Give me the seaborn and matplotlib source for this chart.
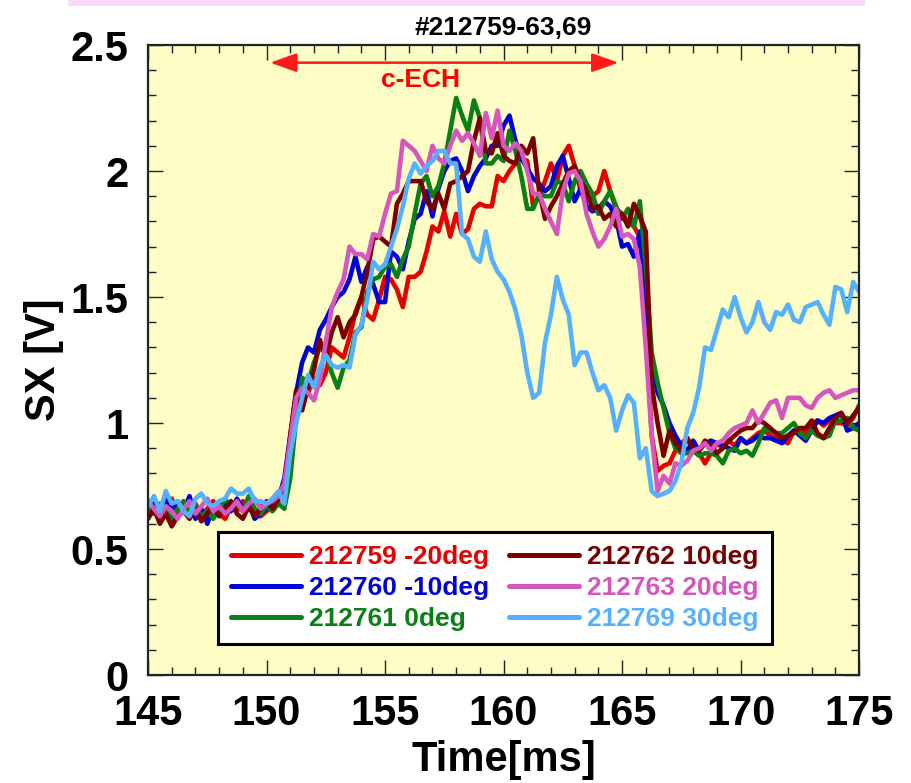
import numpy as np
import pandas as pd
import matplotlib
matplotlib.use("Agg")
import matplotlib.pyplot as plt
from matplotlib.ticker import MultipleLocator, FuncFormatter
from matplotlib.patches import Rectangle
import seaborn as sns

# time base of the soft X-ray signal, 0.25 ms sampling
TIME = np.arange(145.0, 175.001, 0.25)

sx_212759 = [
    0.65, 0.68, 0.63, 0.66, 0.70, 0.64, 0.67, 0.65, 0.68, 0.63, 0.66, 0.69, 0.64, 0.62, 0.67, 0.65,
    0.69, 0.66, 0.64, 0.63, 0.65, 0.67, 0.69, 0.74, 0.92, 1.10, 1.17, 1.12, 1.18, 1.15, 1.20, 1.30,
    1.28, 1.26, 1.34, 1.44, 1.50, 1.43, 1.41, 1.49, 1.58, 1.57, 1.53, 1.46, 1.58, 1.58, 1.60, 1.68,
    1.78, 1.76, 1.84, 1.74, 1.83, 1.75, 1.77, 1.85, 1.87, 1.86, 1.86, 1.98, 1.96, 2.00, 2.03, 2.05,
    2.04, 1.86, 1.90, 1.96, 2.03, 1.96, 2.06, 2.10, 2.02, 1.92, 1.88, 1.90, 1.92, 2.00, 1.92, 1.85,
    1.83, 1.80, 1.78, 1.74, 1.40, 0.95, 0.81, 0.83, 0.84, 0.89, 0.92, 0.94, 0.89, 0.88, 0.84, 0.88,
    0.92, 0.90, 0.93, 0.91, 0.94, 0.92, 0.94, 0.96, 0.97, 0.95, 0.94, 0.93, 0.92, 0.97, 0.98, 0.96,
    1.00, 1.01, 0.99, 1.01, 1.00, 1.00, 0.99, 1.02, 1.07,
]
sx_212760 = [
    0.66, 0.68, 0.64, 0.70, 0.66, 0.69, 0.65, 0.71, 0.62, 0.66, 0.60, 0.67, 0.64, 0.68, 0.65, 0.70,
    0.66, 0.68, 0.62, 0.64, 0.66, 0.67, 0.70, 0.78, 0.95, 1.12, 1.24, 1.30, 1.28, 1.37, 1.41, 1.46,
    1.50, 1.52, 1.57, 1.66, 1.56, 1.62, 1.55, 1.48, 1.48, 1.68, 1.66, 1.61, 1.72, 1.81, 1.83, 1.92,
    1.82, 1.93, 2.00, 2.04, 2.05, 2.00, 1.92, 1.98, 2.02, 2.05, 2.10, 2.10, 2.18, 2.22, 2.12, 2.05,
    2.01, 1.97, 1.95, 1.92, 1.94, 2.02, 2.06, 1.97, 1.88, 1.93, 1.86, 1.84, 1.85, 1.88, 1.86, 1.81,
    1.70, 1.71, 1.66, 1.76, 1.45, 1.24, 1.12, 1.07, 1.00, 0.95, 0.91, 0.89, 0.93, 0.89, 0.92, 0.93,
    0.92, 0.91, 0.90, 0.89, 0.94, 0.92, 0.93, 0.95, 0.94, 0.94, 0.93, 0.92, 0.95, 0.97, 0.95, 0.93,
    0.97, 1.01, 1.00, 1.02, 1.03, 1.04, 0.97, 0.98, 1.00,
]
sx_212761 = [
    0.67, 0.64, 0.68, 0.65, 0.62, 0.66, 0.69, 0.64, 0.67, 0.63, 0.65, 0.62, 0.66, 0.70, 0.66, 0.68,
    0.65, 0.71, 0.66, 0.64, 0.67, 0.65, 0.68, 0.66, 0.78, 1.02, 1.18, 1.16, 1.24, 1.30, 1.28, 1.20,
    1.14, 1.22, 1.25, 1.36, 1.38, 1.52, 1.57, 1.58, 1.62, 1.63, 1.58, 1.65, 1.70, 1.83, 1.95, 1.98,
    1.90, 1.94, 2.03, 2.16, 2.29, 2.22, 2.16, 2.28, 2.21, 2.03, 2.03, 2.06, 2.04, 2.16, 2.08, 1.98,
    1.85, 1.85, 1.91, 1.90, 1.90, 1.96, 1.95, 1.88, 1.96, 2.00, 1.95, 1.91, 1.83, 1.88, 1.92, 1.86,
    1.81, 1.85, 1.78, 1.88, 1.62, 1.28, 1.16, 1.06, 0.96, 0.90, 0.88, 0.88, 0.89, 0.87, 0.88, 0.88,
    0.87, 0.84, 0.89, 0.90, 0.88, 0.89, 0.87, 0.92, 0.98, 0.97, 0.96, 0.96, 0.98, 1.00, 0.96, 0.94,
    0.97, 0.95, 0.94, 0.95, 1.01, 1.01, 1.02, 0.98, 0.97,
]
sx_212762 = [
    0.62, 0.66, 0.60, 0.64, 0.59, 0.63, 0.65, 0.62, 0.66, 0.61, 0.64, 0.67, 0.63, 0.66, 0.69, 0.64,
    0.62, 0.67, 0.63, 0.66, 0.69, 0.66, 0.70, 0.75, 0.95, 1.13, 1.05, 1.14, 1.21, 1.33, 1.26, 1.36,
    1.42, 1.34, 1.40, 1.43, 1.50, 1.60, 1.73, 1.74, 1.72, 1.70, 1.87, 1.91, 1.96, 1.96, 1.96, 1.88,
    1.85, 1.91, 1.85, 1.95, 1.96, 1.98, 2.00, 2.12, 2.21, 2.08, 2.07, 2.15, 2.06, 2.04, 2.03, 2.10,
    2.07, 2.13, 1.92, 1.81, 1.86, 1.90, 1.95, 2.00, 2.02, 1.96, 1.92, 1.85, 1.86, 1.81, 1.83, 1.78,
    1.83, 1.78, 1.87, 1.82, 1.76, 1.15, 1.00, 0.87, 0.97, 0.92, 0.89, 0.94, 0.90, 0.89, 0.93, 0.91,
    0.88, 0.90, 0.93, 0.95, 0.97, 0.98, 0.98, 1.01, 1.00, 0.98, 0.96, 0.94, 0.95, 0.96, 0.98, 0.98,
    1.01, 0.96, 0.94, 0.98, 1.02, 1.04, 1.00, 1.03, 1.06,
]
sx_212763 = [
    0.69, 0.66, 0.63, 0.67, 0.65, 0.62, 0.66, 0.69, 0.64, 0.67, 0.70, 0.65, 0.67, 0.64, 0.66, 0.69,
    0.65, 0.68, 0.70, 0.66, 0.68, 0.69, 0.71, 0.76, 0.93, 1.10, 1.14, 1.12, 1.09, 1.17, 1.32, 1.46,
    1.52, 1.57, 1.70, 1.67, 1.67, 1.65, 1.75, 1.74, 1.83, 1.91, 1.92, 2.12, 2.10, 2.08, 2.04, 2.00,
    2.10, 2.05, 2.03, 2.10, 2.16, 2.12, 2.15, 2.11, 2.06, 2.23, 2.13, 2.24, 2.10, 2.08, 2.11, 2.08,
    2.00, 1.91, 1.91, 1.85, 1.80, 1.75, 1.92, 1.99, 2.00, 1.96, 1.83, 1.76, 1.70, 1.73, 1.78, 1.85,
    1.74, 1.75, 1.73, 1.62, 1.30, 0.95, 0.73, 0.79, 0.76, 0.84, 0.83, 0.85, 0.89, 0.90, 0.92, 0.89,
    0.92, 0.93, 0.96, 0.98, 0.99, 1.00, 1.05, 1.00, 1.04, 1.08, 1.09, 1.02, 1.10, 1.10, 1.10, 1.07,
    1.06, 1.10, 1.12, 1.13, 1.10, 1.11, 1.12, 1.13, 1.13,
]
sx_212769 = [
    0.67, 0.71, 0.65, 0.73, 0.68, 0.69, 0.65, 0.63, 0.70, 0.72, 0.68, 0.67, 0.69, 0.70, 0.74, 0.72,
    0.72, 0.74, 0.69, 0.69, 0.68, 0.70, 0.73, 0.68, 0.88, 1.00, 1.10, 1.19, 1.14, 1.22, 1.27, 1.23,
    1.22, 1.23, 1.22, 1.35, 1.39, 1.49, 1.64, 1.61, 1.63, 1.70, 1.77, 1.86, 1.97, 2.03, 1.99, 2.02,
    2.04, 2.08, 2.08, 2.03, 2.03, 1.75, 1.73, 1.66, 1.64, 1.76, 1.65, 1.60, 1.57, 1.52, 1.45, 1.35,
    1.20, 1.10, 1.12, 1.32, 1.43, 1.58, 1.49, 1.43, 1.23, 1.28, 1.28, 1.20, 1.13, 1.15, 1.10, 0.97,
    1.05, 1.11, 1.08, 0.86, 0.90, 0.73, 0.71, 0.72, 0.73, 0.77, 0.84, 0.98, 1.04, 1.14, 1.30, 1.29,
    1.37, 1.45, 1.42, 1.50, 1.42, 1.36, 1.40, 1.48, 1.40, 1.37, 1.44, 1.43, 1.47, 1.41, 1.40, 1.46,
    1.47, 1.48, 1.43, 1.39, 1.54, 1.53, 1.44, 1.56, 1.52,
]

LABELS = ["212759 -20deg", "212760 -10deg", "212761 0deg",
          "212762 10deg", "212763 20deg", "212769 30deg"]
SERIES = [sx_212759, sx_212760, sx_212761, sx_212762, sx_212763, sx_212769]
COLORS = ["#E60000", "#0000D8", "#0A7F14", "#7A0000", "#D655BE", "#55B1FF"]

ECH_START, ECH_END = 150.15, 164.85

sns.set_style("ticks")
plt.rcParams["font.family"] = ["Liberation Sans", "DejaVu Sans"]
plt.rcParams["font.weight"] = "bold"
plt.rcParams["axes.labelweight"] = "bold"
for key in ("text.color", "axes.labelcolor", "xtick.color", "ytick.color"):
    plt.rcParams[key] = "black"

fig = plt.figure(figsize=(9.11, 7.83), dpi=100)
ax = fig.add_axes([0.1625, 0.1379, 0.7805, 0.8046])
ax.set_facecolor("#FFFDC6")

for vals, lab, col in zip(SERIES, LABELS, COLORS):
    sns.lineplot(x=TIME, y=vals, color=col, lw=3.3, label=lab, ax=ax,
                 estimator=None, legend=False)

ax.set_xlim(145, 175)
ax.set_ylim(0, 2.5)
ax.xaxis.set_major_locator(MultipleLocator(5))
ax.xaxis.set_minor_locator(MultipleLocator(1))
ax.yaxis.set_major_locator(MultipleLocator(0.5))
ax.yaxis.set_minor_locator(MultipleLocator(0.1))
ax.yaxis.set_major_formatter(FuncFormatter(lambda v, _: f"{v:g}"))
ax.tick_params(which="both", direction="in", top=True, right=True, width=1.0,
               color="#222222", labelcolor="black")
ax.tick_params(which="major", length=11)
ax.tick_params(which="minor", length=6)
ax.tick_params(axis="x", which="major", labelsize=30, pad=14)
ax.tick_params(axis="y", which="major", labelsize=30, pad=14)
for lbl in ax.get_xticklabels() + ax.get_yticklabels():
    lbl.set_fontweight("bold")
for sp in ax.spines.values():
    sp.set_linewidth(1.6)
    sp.set_color("#222222")

ax.set_xlabel("Time[ms]", fontsize=30, fontweight="bold", labelpad=4, color="black")
ax.set_ylabel("SX [V]", fontsize=30, fontweight="bold", labelpad=5, color="black")
ax.set_title("#212759-63,69", fontsize=19, fontweight="bold", pad=7, color="black")

# heating window
ax.annotate("", xy=(ECH_START, 2.43), xytext=(ECH_END, 2.43),
            arrowprops=dict(arrowstyle="<|-|>,head_length=0.9,head_width=0.32",
                            color="#FF1A1A", lw=1.8, mutation_scale=18,
                            shrinkA=0, shrinkB=0))
ax.text(156.5, 2.36, "c-ECH", color="#FF0000", fontsize=19, fontweight="bold",
        ha="center", va="center")

handles, labels = ax.get_legend_handles_labels()
leg = ax.legend(handles, labels,
                ncol=2, loc="lower left", bbox_to_anchor=(0.0985, 0.049, 0.779, 0.18),
                mode="expand", borderaxespad=0.0, frameon=True, fancybox=False,
                edgecolor="black", facecolor="white", framealpha=1.0,
                prop={"size": 19, "weight": "bold"},
                handlelength=2.65, handletextpad=0.3, labelspacing=0.26,
                borderpad=0.5, columnspacing=0.8, labelcolor="linecolor")
leg.get_frame().set_linewidth(2.2)
for ln in leg.get_lines():
    ln.set_linewidth(3.6)

# pink header strip at the top of the page
fig.patches.append(Rectangle((68 / 911, 1 - 6 / 783), (865 - 68) / 911, 6 / 783,
                             transform=fig.transFigure, facecolor="#F9D9F9",
                             edgecolor="none"))

fig.savefig("out.png", dpi=100)
